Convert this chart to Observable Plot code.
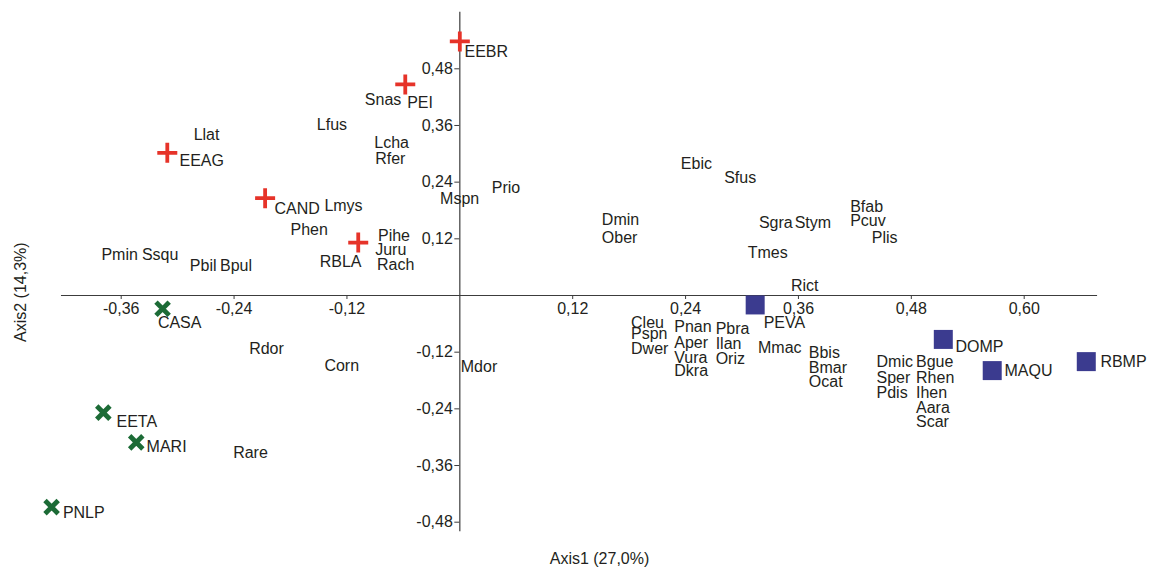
<!DOCTYPE html>
<html>
<head>
<meta charset="utf-8">
<script src="https://cdn.jsdelivr.net/npm/d3@7"></script>
<script src="https://cdn.jsdelivr.net/npm/@observablehq/plot@0.6"></script>
<style>
  html, body { margin: 0; padding: 0; background: #fff; }
  svg { display: block; }
</style>
</head>
<body>
<div id="chart"></div>
<script>
// ---- Sites (scores on Axis1 / Axis2) ----
const siteNames  = ["EEBR","PEI","EEAG","CAND","RBLA","CASA","EETA","MARI","PNLP","PEVA","DOMP","MAQU","RBMP"];
const siteGroup  = ["plus","plus","plus","plus","plus","times","times","times","times","square","square","square","square"];
const siteX      = [0.000, -0.058, -0.311, -0.207, -0.108, -0.316, -0.379, -0.344, -0.434, 0.314, 0.514, 0.566, 0.666];
const siteY      = [0.538, 0.447, 0.302, 0.206, 0.112, -0.028, -0.248, -0.311, -0.448, -0.020, -0.093, -0.159, -0.140];
const siteLabelX = [0.005, -0.056, -0.298, -0.197, -0.149, -0.321, -0.365, -0.333, -0.422, 0.323, 0.527, 0.579, 0.681];
const siteLabelY = [0.515, 0.407, 0.286, 0.184, 0.072, -0.057, -0.267, -0.320, -0.460, -0.057, -0.108, -0.160, -0.141];

// ---- Species (label positions on Axis1 / Axis2) ----
const speciesNames = ["Llat","Lfus","Snas","Lcha","Rfer","Lmys","Phen","Pihe","Juru","Rach",
  "Pmin","Ssqu","Pbil","Bpul","Mspn","Prio","Dmin","Ober","Ebic","Sfus",
  "Sgra","Stym","Bfab","Pcuv","Plis","Tmes","Rict","Rdor","Corn","Rare",
  "Mdor","Cleu","Pspn","Dwer","Pnan","Aper","Vura","Dkra","Pbra","Ilan",
  "Oriz","Mmac","Bbis","Bmar","Ocat","Dmic","Sper","Pdis","Bgue","Rhen",
  "Ihen","Aara","Scar"];
const speciesX = [-0.283,-0.152,-0.101,-0.091,-0.090,-0.144,-0.180,-0.087,-0.090,-0.088,
  -0.381,-0.338,-0.287,-0.255,-0.021,0.034,0.151,0.151,0.235,0.281,
  0.318,0.356,0.415,0.415,0.438,0.306,0.352,-0.224,-0.144,-0.241,
  0.001,0.182,0.182,0.182,0.228,0.228,0.228,0.228,0.272,0.272,
  0.272,0.317,0.371,0.371,0.371,0.443,0.443,0.443,0.485,0.485,
  0.485,0.485,0.485];
const speciesY = [0.341,0.361,0.415,0.323,0.289,0.189,0.139,0.127,0.097,0.064,
  0.086,0.086,0.062,0.062,0.205,0.228,0.161,0.121,0.279,0.248,
  0.153,0.153,0.187,0.157,0.123,0.090,0.021,-0.114,-0.150,-0.334,
  -0.152,-0.057,-0.081,-0.113,-0.067,-0.100,-0.133,-0.160,-0.071,-0.102,
  -0.134,-0.110,-0.122,-0.153,-0.182,-0.141,-0.174,-0.207,-0.141,-0.174,
  -0.206,-0.237,-0.268];

// ---- Axes ----
const xTicks = [-0.36, -0.24, -0.12, 0.12, 0.24, 0.36, 0.48, 0.60];
const yTicks = [-0.48, -0.36, -0.24, -0.12, 0.12, 0.24, 0.36, 0.48];
const xAxisExtent = [-0.4235, 0.678];
const yAxisExtent = [-0.500, 0.600];
const xTitle = "Axis1 (27,0%)";
const yTitle = "Axis2 (14,3%)";
const xTitlePos = [0.1485, -0.557];
const yTitlePos = [-0.467, 0.007];

// ---- build tables ----
const sites = siteNames.map((name, i) => ({name, group: siteGroup[i], x: siteX[i], y: siteY[i], lx: siteLabelX[i], ly: siteLabelY[i]}));
const species = speciesNames.map((name, i) => ({name, x: speciesX[i], y: speciesY[i]}));

const locale = d3.formatLocale({decimal: ",", thousands: ".", grouping: [3], currency: ["", ""], minus: "-"});
const fmt = locale.format(".2f");

// custom marker shapes (size = pi r^2)
const plusSymbol = {draw(ctx, size) { const r = Math.sqrt(size / Math.PI); ctx.moveTo(-r, 0); ctx.lineTo(r, 0); ctx.moveTo(0, -r); ctx.lineTo(0, r); }};
const timesSymbol = {draw(ctx, size) { const r = Math.sqrt(size / Math.PI); ctx.moveTo(-r, -r); ctx.lineTo(r, r); ctx.moveTo(-r, r); ctx.lineTo(r, -r); }};
const squareSymbol = {draw(ctx, size) { const r = Math.sqrt(size / Math.PI); ctx.rect(-r, -r, 2 * r, 2 * r); }};

const RED = "#e63329", GREEN = "#1c6b36", BLUE = "#3b3b8f", INK = "#231f20", AXIS = "#3c3c3c";
const FS = 16;

const chart = Plot.plot({
  width: 1151,
  height: 572,
  marginTop: 0, marginRight: 0, marginBottom: 0, marginLeft: 0,
  style: {fontFamily: "'Liberation Sans', Arial, Helvetica, sans-serif", fontSize: FS + "px", color: INK, background: "#fff"},
  x: {domain: [-0.36, 0.60], range: [120.7, 1023.7], axis: null},
  y: {domain: [-0.48, 0.48], range: [521.7, 68.3], axis: null},
  marks: [
    // axis lines through the origin
    Plot.ruleY([0], {x1: xAxisExtent[0], x2: xAxisExtent[1], stroke: AXIS, strokeWidth: 1.2}),
    Plot.ruleX([0], {y1: yAxisExtent[0], y2: yAxisExtent[1], stroke: AXIS, strokeWidth: 1.2}),
    // tick marks
    Plot.ruleX(xTicks, {x: d => d, y1: 0, y2: 0, insetTop: 0, insetBottom: -4, stroke: AXIS}),
    Plot.ruleY(yTicks, {y: d => d, x1: 0, x2: 0, insetLeft: -5, insetRight: 0, stroke: AXIS}),
    // tick labels
    Plot.text(xTicks, {x: d => d, y: 0, text: d => fmt(d), dy: 13, fill: INK, fontSize: FS}),
    Plot.text(yTicks, {x: 0, y: d => d, text: d => fmt(d), dx: -7, textAnchor: "end", fill: INK, fontSize: FS}),
    // axis titles
    Plot.text([xTitle], {x: xTitlePos[0], y: xTitlePos[1], text: d => d, fill: INK, fontSize: FS}),
    Plot.text([yTitle], {x: yTitlePos[0], y: yTitlePos[1], text: d => d, rotate: -90, fill: INK, fontSize: FS}),
    // species labels
    Plot.text(species, {x: "x", y: "y", text: "name", textAnchor: "start", fill: INK, fontSize: FS}),
    // site markers
    Plot.dot(sites.filter(d => d.group === "plus"), {x: "x", y: "y", symbol: plusSymbol, r: 10, fill: "none", stroke: RED, strokeWidth: 3.8, strokeLinecap: "butt"}),
    Plot.dot(sites.filter(d => d.group === "times"), {x: "x", y: "y", symbol: timesSymbol, r: 6.6, fill: "none", stroke: GREEN, strokeWidth: 4.8, strokeLinecap: "butt"}),
    Plot.dot(sites.filter(d => d.group === "square"), {x: "x", y: "y", symbol: squareSymbol, r: 9.5, fill: BLUE, stroke: "none"}),
    // site labels
    Plot.text(sites, {x: "lx", y: "ly", text: "name", textAnchor: "start", fill: INK, fontSize: FS})
  ]
});

document.getElementById("chart").appendChild(chart);
</script>
</body>
</html>
